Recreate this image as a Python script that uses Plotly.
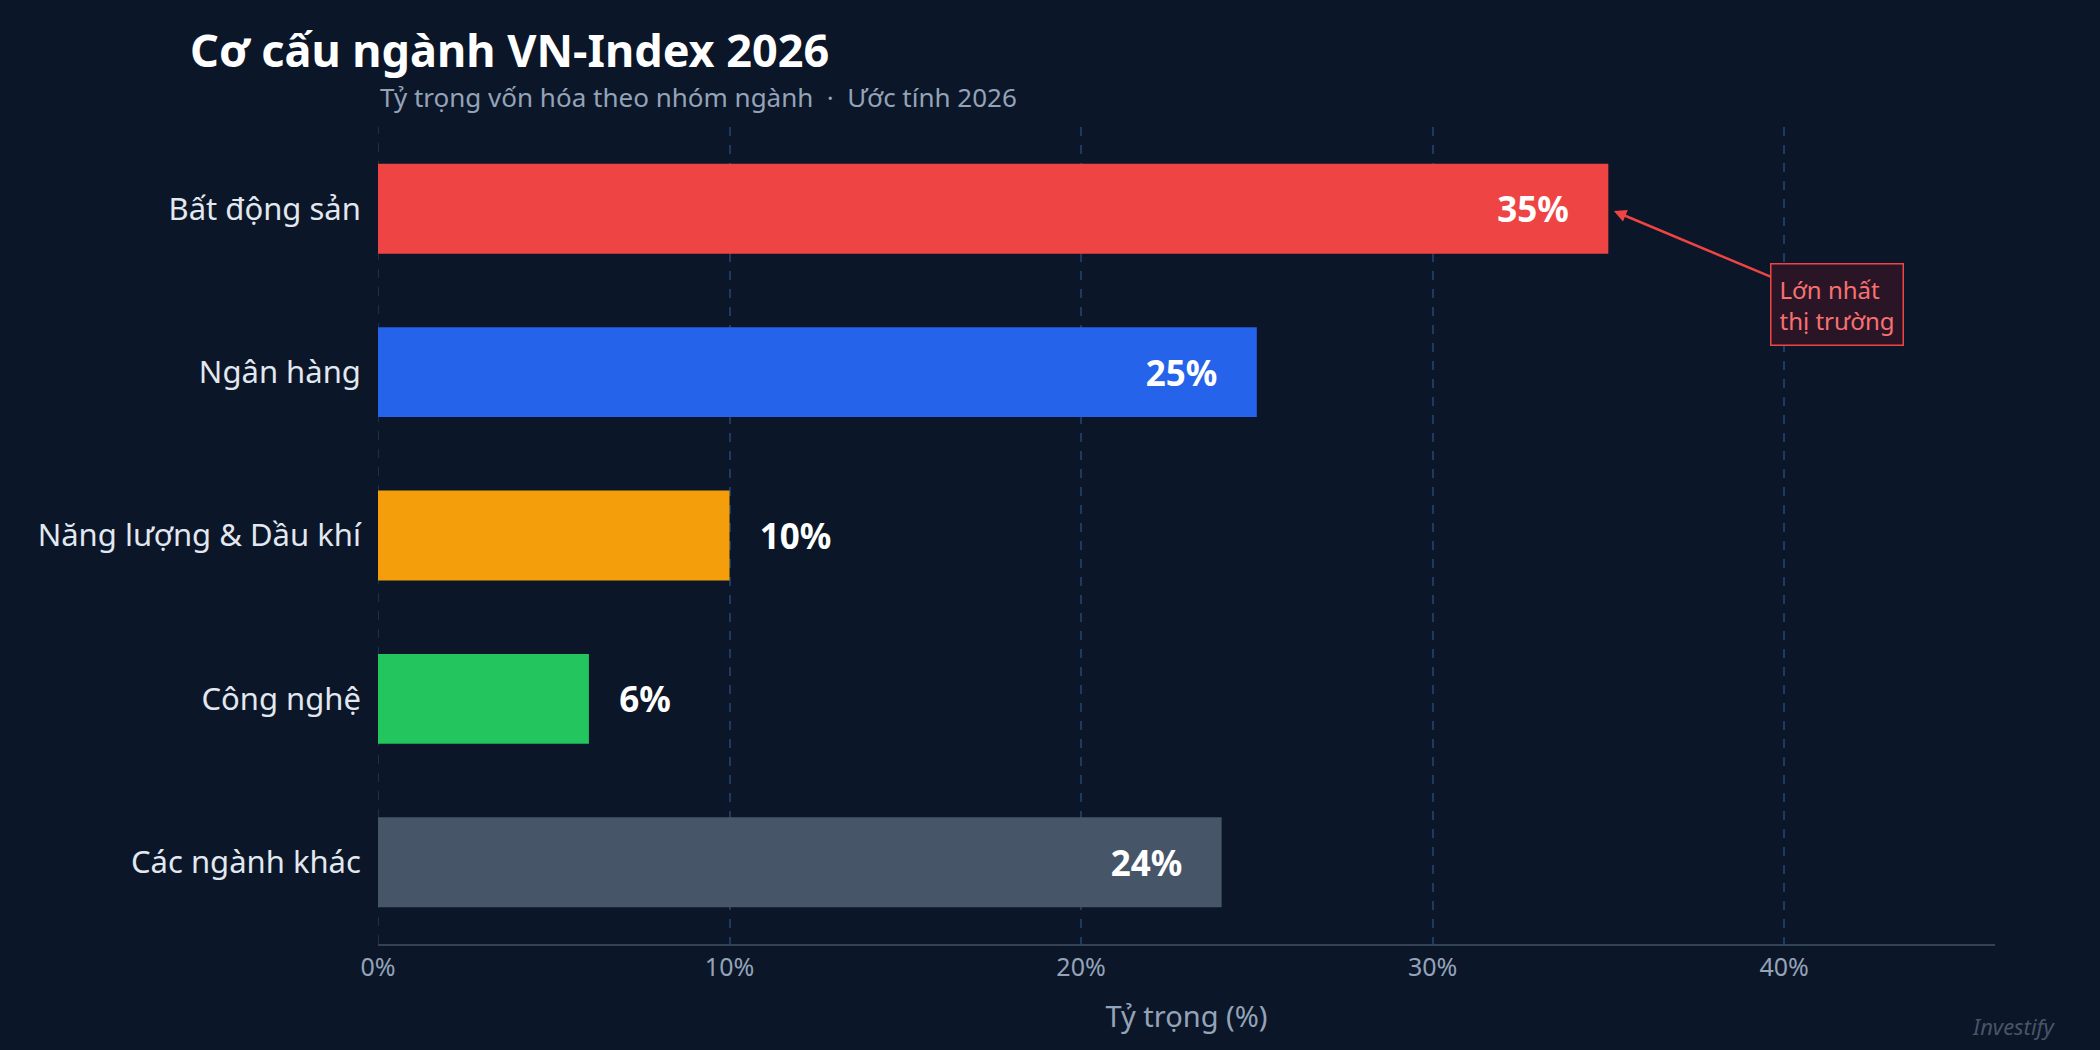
import plotly.graph_objects as go

categories = ["Bất động sản", "Ngân hàng", "Năng lượng & Dầu khí", "Công nghệ", "Các ngành khác"]
values = [35, 25, 10, 6, 24]
colors = ["#ef4444", "#2563eb", "#f59e0b", "#22c55e", "#475569"]
positions = ["inside", "inside", "outside", "outside", "inside"]
tick_vals = [0, 10, 20, 30, 40]
tick_text = ["0%", "10%", "20%", "30%", "40%"]

bg = "#0b1628"
fig = go.Figure(go.Bar(
    y=categories, x=values, orientation="h",
    marker=dict(color=colors, line=dict(width=0)),
    width=0.55,
    text=[f"{v}%    " if p == "inside" else f"   {v}%" for v, p in zip(values, positions)],
    textposition=positions, insidetextanchor="end",
    textfont=dict(family="Noto Sans", size=35, color="white", weight="bold"),
    outsidetextfont=dict(family="Noto Sans", size=35, color="white", weight="bold"),
    cliponaxis=False,
))
fig.add_vline(x=0, line=dict(color="#1e3a5f", dash="dash", width=1.5), layer="below")
fig.update_layout(
    width=2100, height=1050, paper_bgcolor=bg, plot_bgcolor=bg,
    margin=dict(l=378, r=105, t=127, b=106),
    font=dict(family="Noto Sans", color="#e2e8f0"),
    showlegend=False,
    title=dict(text="<b>Cơ cấu ngành VN-Index 2026</b>", x=190/2100, xanchor="left",
               y=1-51/1050, yanchor="middle", font=dict(size=45, color="white")),
    xaxis=dict(range=[0, 46], tickvals=tick_vals, ticktext=tick_text,
               showgrid=True, gridcolor="#1e3a5f", griddash="dash", gridwidth=1.5,
               zeroline=False, showline=True, linecolor="#334155", linewidth=2,
               tickfont=dict(size=25, color="#94a3b8"),
               title=dict(text="Tỷ trọng (%)", font=dict(size=29, color="#94a3b8"), standoff=25)),
    yaxis=dict(range=[4.5, -0.5], tickfont=dict(size=31, color="#e2e8f0"),
               ticksuffix="  ", showgrid=False),
    annotations=[
        dict(text="Tỷ trọng vốn hóa theo nhóm ngành  ·  Ước tính 2026", xref="paper", yref="paper",
             x=0, y=1 + (127-97)/817, xanchor="left", yanchor="middle", showarrow=False,
             font=dict(size=26, color="#94a3b8")),
        dict(text="Lớn nhất<br>thị trường", x=35, y="Bất động sản", xanchor="center",
             ax=229, ay=96, axref="pixel", ayref="pixel", showarrow=True,
             arrowhead=2, arrowsize=1, arrowwidth=2.5, arrowcolor="#ef4444",
             standoff=6, align="left",
             bgcolor="#2a1527", bordercolor="#ef4444", borderwidth=1.5, borderpad=8,
             font=dict(size=24, color="#f87171")),
        dict(text="<i>Investify</i>", xref="paper", yref="paper",
             x=(2058-378)/1617, y=(944-1026)/817,
             xanchor="right", yanchor="middle", showarrow=False,
             font=dict(size=22, color="#475569")),
    ],
)
fig.write_html("out.html", config={"displayModeBar": False},
               post_script="document.body.style.margin='0';document.body.style.background='#0b1628';")
